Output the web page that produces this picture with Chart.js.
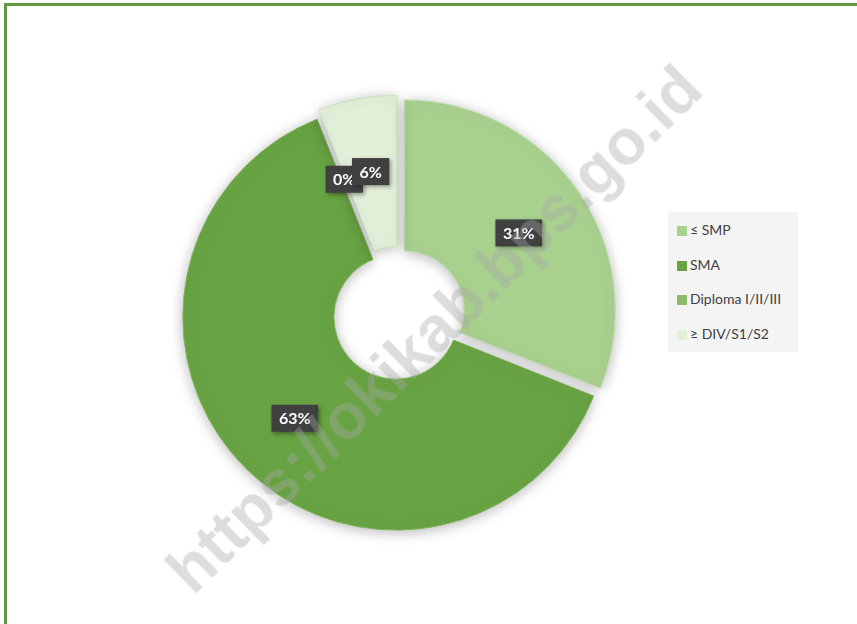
<!DOCTYPE html>
<html>
<head>
<meta charset="utf-8">
<script src="https://cdn.jsdelivr.net/npm/chart.js@4/dist/chart.umd.min.js"></script>
<style>
  html, body { margin: 0; padding: 0; background: #fff; overflow: hidden; }
  #wrap { position: relative; width: 857px; height: 624px; }
  #frame {
    position: absolute; left: 4px; top: 3px; width: 900px; height: 700px;
    border: 3px solid #609a41; box-sizing: border-box;
  }
  #legend {
    position: absolute; left: 668px; top: 212px; width: 130px; height: 140px;
    background: #f4f4f4; font: 14px Lato, "Open Sans", sans-serif; color: #404040;
  }
  #legend .item { position: absolute; left: 9px; height: 18px; line-height: 18px; white-space: nowrap; }
  #legend .sw { display: inline-block; width: 10px; height: 10px; margin-right: 3px; vertical-align: -1px; }
  #wm {
    position: absolute; left: 434px; top: 329px; white-space: nowrap;
    transform: translate(-50%, -50%) rotate(-44.5deg);
    font: bold 64px "Liberation Sans", Arial, sans-serif; color: rgba(165,165,165,0.38);
    pointer-events: none;
  }
</style>
</head>
<body>
<div id="wrap">
  <canvas id="donut" width="857" height="624"></canvas>
  <div id="frame"></div>
  <div id="legend"></div>
  <div id="wm">https://okikab.bps.go.id</div>
</div>
<script>
// pendidikan: share per category (%)
const categories = ['≤ SMP', 'SMA', 'Diploma I/II/III', '≥ DIV/S1/S2'];
const shares     = [31, 63, 0, 6];
const colours    = ['#a9d18e', '#68a343', '#8dbb6b', '#e2f0d9'];
const edges      = ['#bcdca6', '#7fb35c', '#a2c987', '#c8e2b8'];
const explode    = [32, 12, 24, 24];   // how far each slice is pulled out

// legend (html so the grey box can sit where it does in the original)
const legendEl = document.getElementById('legend');
const rowY = [9, 44, 78, 113];
categories.forEach((c, i) => {
  const d = document.createElement('div');
  d.className = 'item';
  d.style.top = rowY[i] + 'px';
  d.innerHTML = `<span class="sw" style="background:${colours[i]}"></span>${c}`;
  legendEl.appendChild(d);
});

const shadowPlugin = {
  id: 'shadow',
  beforeDatasetsDraw(chart) {
    const ctx = chart.ctx;
    ctx.save();
    ctx.shadowColor   = 'rgba(0,0,0,0.28)';
    ctx.shadowBlur    = 14;
    ctx.shadowOffsetX = 0;
    ctx.shadowOffsetY = 2;
  },
  afterDatasetsDraw(chart) {
    chart.ctx.restore();
  },
};

const labelPlugin = {
  id: 'pctLabels',
  afterDatasetsDraw(chart) {
    const ctx  = chart.ctx;
    const meta = chart.getDatasetMeta(0);
    ctx.save();
    ctx.font = 'bold 16px Lato, "Open Sans", sans-serif';
    ctx.textAlign = 'center';
    ctx.textBaseline = 'middle';
    meta.data.forEach((arc, i) => {
      const mid = (arc.startAngle + arc.endAngle) / 2;
      const px = arc.x + Math.cos(mid) * 146;
      const py = arc.y + Math.sin(mid) * 146;
      const txt = shares[i] + '%';
      const w = ctx.measureText(txt).width + 15;
      const h = 27;
      ctx.shadowColor = 'rgba(0,0,0,0.35)';
      ctx.shadowBlur = 4;
      ctx.shadowOffsetX = 2;
      ctx.shadowOffsetY = 2;
      ctx.fillStyle = '#404040';
      ctx.fillRect(px - w / 2, py - h / 2, w, h);
      ctx.shadowColor = 'transparent';
      ctx.fillStyle = '#ffffff';
      ctx.fillText(txt, px, py + 1);
    });
    ctx.restore();
  },
};

new Chart(document.getElementById('donut'), {
  type: 'doughnut',
  data: {
    labels: categories,
    datasets: [{
      data:            shares,
      backgroundColor: colours,
      borderColor:     edges,
      borderWidth:     1,
      offset:          explode,
    }],
  },
  options: {
    responsive: false,
    animation:  false,
    radius:     210,
    cutout:     '28.1%',
    layout:     { padding: { left: 0, right: 61, top: 6, bottom: 0 } },
    plugins:    { legend: { display: false }, tooltip: { enabled: false } },
  },
  plugins: [shadowPlugin, labelPlugin],
});
</script>
</body>
</html>
